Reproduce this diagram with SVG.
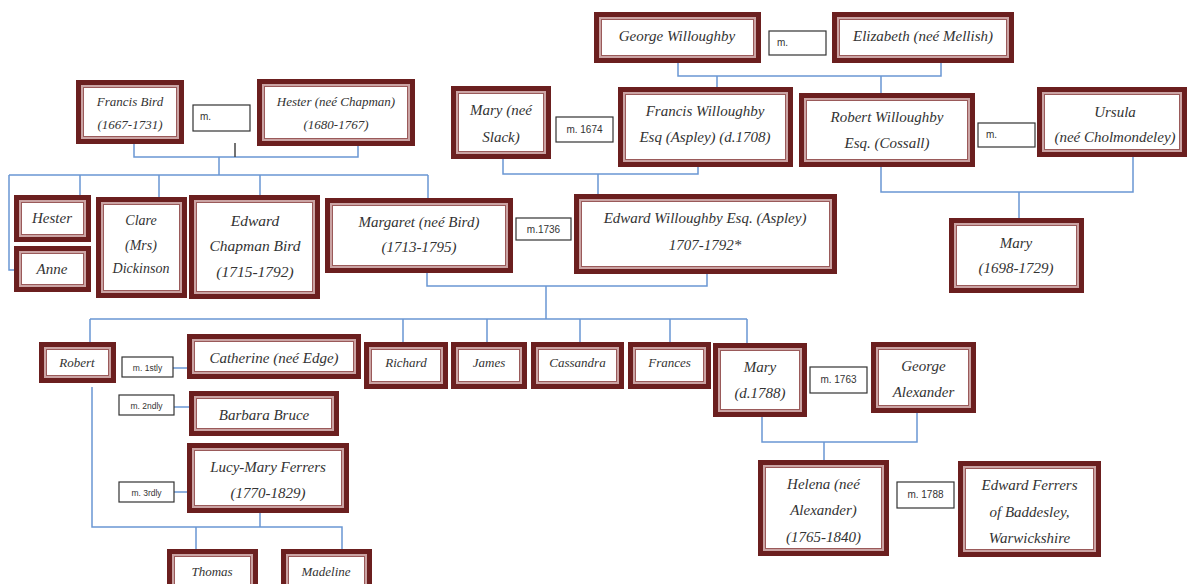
<svg xmlns="http://www.w3.org/2000/svg" width="1188" height="584" viewBox="0 0 1188 584">
<style>
.o{fill:#fff;stroke:#6b1f1f;stroke-width:5}
.m{fill:none;stroke:#cba4a4;stroke-width:2}
.i{fill:none;stroke:#9a5a5a;stroke-width:1}
.t{font-family:"Liberation Serif",serif;font-style:italic;fill:#333;text-anchor:middle}
.s13{font-size:13px}.s14{font-size:14px}.s15{font-size:15px}.s16{font-size:15.5px}
.lb{fill:#fff;stroke:#333;stroke-width:1.2}
.lt{font-family:"Liberation Sans",sans-serif;font-size:10px;fill:#333}
.lt2{font-family:"Liberation Sans",sans-serif;font-size:8.5px;fill:#333;text-anchor:middle}
.c{fill:none;stroke:#6a97d4;stroke-width:1.5}
</style>
<rect width="1188" height="584" fill="#fff"/>
<g id="connectors">
<path class="c" d="M134,144V157H358V146M219,157V175M9,175H428M80,175V198M159,175V197M260,175V195M428,175V198M9,175V270H15"/>
<path d="M235,143V157" fill="none" stroke="#444" stroke-width="1.5"/>
<path class="c" d="M678,63V76H941V63M717,76V87M881,76V93"/>
<path class="c" d="M503,159V174H698V167M598,174V194"/>
<path class="c" d="M881,167V192H1133V157M1019,192V218"/>
<path class="c" d="M427,273V286H707V274M546,286V319M90,319H747M90,319V342M403,319V342M487,319V342M580,319V342M670,319V342M747,319V343"/>
<path class="c" d="M173,368H187M174,407H189M174,492H187"/>
<path class="c" d="M92,387V527H342V549M260,513V527M196,527V549"/>
<path class="c" d="M762,417V442H917V413M824,442V460"/>
</g>
<g id="marriage-labels">
<g id="m-bird"><rect class="lb" x="193" y="105" width="57" height="26"/><text class="lt" x="200" y="120">m.</text></g>
<g id="m-george"><rect class="lb" x="769" y="31" width="57" height="24"/><text class="lt" x="777" y="46">m.</text></g>
<g id="m-1674"><rect class="lb" x="556" y="117" width="57" height="25"/><text class="lt" x="584.5" y="133" text-anchor="middle">m. 1674</text></g>
<g id="m-robertw"><rect class="lb" x="978" y="123" width="57" height="24"/><text class="lt" x="986" y="138">m.</text></g>
<g id="m-1736"><rect class="lb" x="516" y="218" width="55" height="22"/><text class="lt" x="543.5" y="233" text-anchor="middle">m.1736</text></g>
<g id="m-1stly"><rect class="lb" x="122" y="357" width="51" height="20"/><text class="lt2" x="147.5" y="370.5">m. 1stly</text></g>
<g id="m-2ndly"><rect class="lb" x="119" y="395" width="55" height="20"/><text class="lt2" x="146.5" y="408.5">m. 2ndly</text></g>
<g id="m-3rdly"><rect class="lb" x="119" y="482" width="55" height="20"/><text class="lt2" x="146.5" y="495.5">m. 3rdly</text></g>
<g id="m-1763"><rect class="lb" x="810" y="367" width="57" height="26"/><text class="lt" x="838.5" y="383" text-anchor="middle">m. 1763</text></g>
<g id="m-1788"><rect class="lb" x="897" y="482" width="57" height="26"/><text class="lt" x="925.5" y="498" text-anchor="middle">m. 1788</text></g>
</g>
<g id="francis-bird"><rect class="o" x="78.5" y="82.5" width="103" height="59"/><rect class="m" x="82" y="86" width="96" height="52"/><rect class="i" x="83.5" y="87.5" width="93" height="49"/><text class="t s13" x="130" y="106">Francis Bird</text><text class="t s13" x="130" y="129">(1667-1731)</text></g>
<g id="hester-chapman"><rect class="o" x="259.5" y="81.5" width="153" height="62"/><rect class="m" x="263" y="85" width="146" height="55"/><rect class="i" x="264.5" y="86.5" width="143" height="52"/><text class="t s13" x="336" y="106">Hester (neé Chapman)</text><text class="t s13" x="336" y="129">(1680-1767)</text></g>
<g id="george-willoughby"><rect class="o" x="596.5" y="14.5" width="162" height="46"/><rect class="m" x="600" y="18" width="155" height="39"/><rect class="i" x="601.5" y="19.5" width="152" height="36"/><text class="t s15" x="677" y="41">George Willoughby</text></g>
<g id="elizabeth-mellish"><rect class="o" x="834.5" y="14.5" width="177" height="46"/><rect class="m" x="838" y="18" width="170" height="39"/><rect class="i" x="839.5" y="19.5" width="167" height="36"/><text class="t s15" x="923" y="41">Elizabeth (neé Mellish)</text></g>
<g id="mary-slack"><rect class="o" x="453.5" y="88.5" width="95" height="68"/><rect class="m" x="457" y="92" width="88" height="61"/><rect class="i" x="458.5" y="93.5" width="85" height="58"/><text class="t s15" x="501" y="115">Mary (neé</text><text class="t s15" x="501" y="142">Slack)</text></g>
<g id="francis-willoughby"><rect class="o" x="620.5" y="89.5" width="170" height="75"/><rect class="m" x="624" y="93" width="163" height="68"/><rect class="i" x="625.5" y="94.5" width="160" height="65"/><text class="t s15" x="705" y="116">Francis Willoughby</text><text class="t s15" x="705" y="142">Esq (Aspley) (d.1708)</text></g>
<g id="robert-willoughby"><rect class="o" x="801.5" y="95.5" width="171" height="69"/><rect class="m" x="805" y="99" width="164" height="62"/><rect class="i" x="806.5" y="100.5" width="161" height="59"/><text class="t s15" x="887" y="122">Robert Willoughby</text><text class="t s15" x="887" y="148">Esq. (Cossall)</text></g>
<g id="ursula"><rect class="o" x="1039.5" y="89.5" width="145" height="65"/><rect class="m" x="1043" y="93" width="138" height="58"/><rect class="i" x="1044.5" y="94.5" width="135" height="55"/><text class="t s15" x="1115" y="117">Ursula</text><text class="t s15" x="1115" y="142">(neé Cholmondeley)</text></g>
<g id="hester"><rect class="o" x="16.5" y="197.5" width="72" height="42"/><rect class="m" x="20" y="201" width="65" height="35"/><rect class="i" x="21.5" y="202.5" width="62" height="32"/><text class="t s15" x="52" y="223">Hester</text></g>
<g id="anne"><rect class="o" x="16.5" y="248.5" width="72" height="41"/><rect class="m" x="20" y="252" width="65" height="34"/><rect class="i" x="21.5" y="253.5" width="62" height="31"/><text class="t s15" x="52" y="274">Anne</text></g>
<g id="clare"><rect class="o" x="98.5" y="199.5" width="86" height="96"/><rect class="m" x="102" y="203" width="79" height="89"/><rect class="i" x="103.5" y="204.5" width="76" height="86"/><text class="t s14" x="141" y="225">Clare</text><text class="t s14" x="141" y="250">(Mrs)</text><text class="t s14" x="141" y="273">Dickinson</text></g>
<g id="edward-chapman-bird"><rect class="o" x="191.5" y="197.5" width="126" height="99"/><rect class="m" x="195" y="201" width="119" height="92"/><rect class="i" x="196.5" y="202.5" width="116" height="89"/><text class="t s16" x="255" y="226">Edward</text><text class="t s16" x="255" y="251">Chapman Bird</text><text class="t s16" x="255" y="277">(1715-1792)</text></g>
<g id="margaret"><rect class="o" x="327.5" y="200.5" width="183" height="70"/><rect class="m" x="331" y="204" width="176" height="63"/><rect class="i" x="332.5" y="205.5" width="173" height="60"/><text class="t s15" x="419" y="227">Margaret (neé Bird)</text><text class="t s15" x="419" y="252">(1713-1795)</text></g>
<g id="edward-willoughby"><rect class="o" x="576.5" y="196.5" width="258" height="75"/><rect class="m" x="580" y="200" width="251" height="68"/><rect class="i" x="581.5" y="201.5" width="248" height="65"/><text class="t s15" x="705" y="223">Edward Willoughby Esq. (Aspley)</text><text class="t s15" x="705" y="250">1707-1792*</text></g>
<g id="mary-1698"><rect class="o" x="951.5" y="220.5" width="130" height="70"/><rect class="m" x="955" y="224" width="123" height="63"/><rect class="i" x="956.5" y="225.5" width="120" height="60"/><text class="t s15" x="1016" y="248">Mary</text><text class="t s15" x="1016" y="273">(1698-1729)</text></g>
<g id="robert"><rect class="o" x="41.5" y="344.5" width="72" height="36"/><rect class="m" x="45" y="348" width="65" height="29"/><rect class="i" x="46.5" y="349.5" width="62" height="26"/><text class="t s13" x="77" y="367">Robert</text></g>
<g id="catherine"><rect class="o" x="189.5" y="336.5" width="169" height="40"/><rect class="m" x="193" y="340" width="162" height="33"/><rect class="i" x="194.5" y="341.5" width="159" height="30"/><text class="t s15" x="274" y="363">Catherine (neé Edge)</text></g>
<g id="barbara"><rect class="o" x="191.5" y="393.5" width="145" height="40"/><rect class="m" x="195" y="397" width="138" height="33"/><rect class="i" x="196.5" y="398.5" width="135" height="30"/><text class="t s15" x="264" y="420">Barbara Bruce</text></g>
<g id="lucy-mary"><rect class="o" x="189.5" y="445.5" width="157" height="65"/><rect class="m" x="193" y="449" width="150" height="58"/><rect class="i" x="194.5" y="450.5" width="147" height="55"/><text class="t s15" x="268" y="472">Lucy-Mary Ferrers</text><text class="t s15" x="268" y="498">(1770-1829)</text></g>
<g id="thomas"><rect class="o" x="169.5" y="551.5" width="86" height="45"/><rect class="m" x="173" y="555" width="79" height="38"/><rect class="i" x="174.5" y="556.5" width="76" height="35"/><text class="t s13" x="212" y="576">Thomas</text></g>
<g id="madeline"><rect class="o" x="283.5" y="551.5" width="86" height="45"/><rect class="m" x="287" y="555" width="79" height="38"/><rect class="i" x="288.5" y="556.5" width="76" height="35"/><text class="t s13" x="326" y="576">Madeline</text></g>
<g id="richard"><rect class="o" x="366.5" y="344.5" width="79" height="42"/><rect class="m" x="370" y="348" width="72" height="35"/><rect class="i" x="371.5" y="349.5" width="69" height="32"/><text class="t s13" x="406" y="367">Richard</text></g>
<g id="james"><rect class="o" x="453.5" y="344.5" width="71" height="42"/><rect class="m" x="457" y="348" width="64" height="35"/><rect class="i" x="458.5" y="349.5" width="61" height="32"/><text class="t s13" x="489" y="367">James</text></g>
<g id="cassandra"><rect class="o" x="533.5" y="344.5" width="88" height="42"/><rect class="m" x="537" y="348" width="81" height="35"/><rect class="i" x="538.5" y="349.5" width="78" height="32"/><text class="t s13" x="577.5" y="367">Cassandra</text></g>
<g id="frances"><rect class="o" x="630.5" y="344.5" width="78" height="42"/><rect class="m" x="634" y="348" width="71" height="35"/><rect class="i" x="635.5" y="349.5" width="68" height="32"/><text class="t s13" x="669.5" y="367">Frances</text></g>
<g id="mary-1788"><rect class="o" x="715.5" y="345.5" width="89" height="69"/><rect class="m" x="719" y="349" width="82" height="62"/><rect class="i" x="720.5" y="350.5" width="79" height="59"/><text class="t s15" x="760" y="372">Mary</text><text class="t s15" x="760" y="398">(d.1788)</text></g>
<g id="george-alexander"><rect class="o" x="873.5" y="344.5" width="100" height="66"/><rect class="m" x="877" y="348" width="93" height="59"/><rect class="i" x="878.5" y="349.5" width="90" height="56"/><text class="t s15" x="923.5" y="371">George</text><text class="t s15" x="923.5" y="397">Alexander</text></g>
<g id="helena"><rect class="o" x="760.5" y="462.5" width="126" height="91"/><rect class="m" x="764" y="466" width="119" height="84"/><rect class="i" x="765.5" y="467.5" width="116" height="81"/><text class="t s15" x="823.5" y="489">Helena (neé</text><text class="t s15" x="823.5" y="515">Alexander)</text><text class="t s15" x="823.5" y="542">(1765-1840)</text></g>
<g id="edward-ferrers"><rect class="o" x="960.5" y="463.5" width="138" height="91"/><rect class="m" x="964" y="467" width="131" height="84"/><rect class="i" x="965.5" y="468.5" width="128" height="81"/><text class="t s15" x="1029.5" y="490">Edward Ferrers</text><text class="t s15" x="1029.5" y="517">of Baddesley,</text><text class="t s15" x="1029.5" y="543">Warwickshire</text></g>
</svg>
